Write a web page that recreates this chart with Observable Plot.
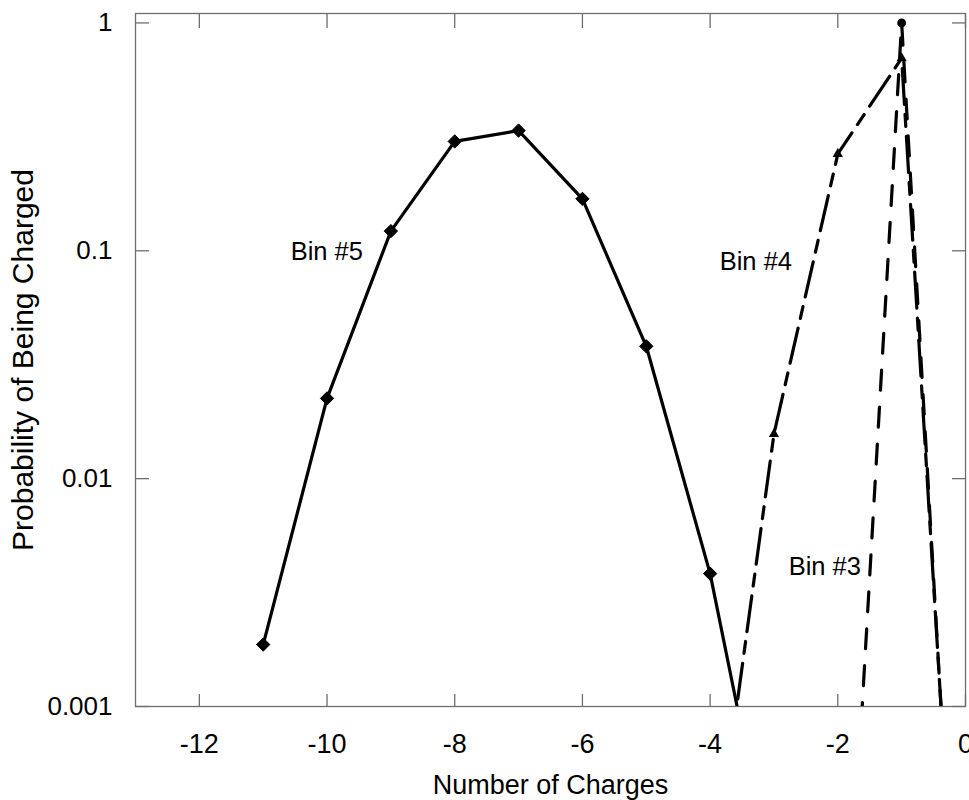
<!DOCTYPE html>
<html>
<head>
<meta charset="utf-8">
<script src="https://cdn.jsdelivr.net/npm/d3@7"></script>
<script src="https://cdn.jsdelivr.net/npm/@observablehq/plot@0.6"></script>
<style>
  html, body { margin: 0; padding: 0; background: #fff; }
  #chart svg { display: block; }
</style>
</head>
<body>
<div id="chart"></div>
<script>
// Bin #5 (solid, diamonds)
const charges5 = [-11, -10, -9, -8, -7, -6, -5, -4, -3];
const prob5 = [0.00187, 0.0225, 0.122, 0.302, 0.337, 0.169, 0.0381, 0.00383, 0.00016];
// Bin #4 (dash-dot, triangles)
const charges4 = [-4, -3, -2, -1, 0];
const prob4 = [0.00014, 0.0157, 0.266, 0.70, 0.000017];
// Bin #3 (dashed, circles)
const charges3 = [-2, -1, 0];
const prob3 = [0.000014, 1.0, 0.0000135];

const xTicks = [-12, -10, -8, -6, -4, -2, 0];
const yTicks = [0.001, 0.01, 0.1, 1];
const yTickLabels = ["0.001", "0.01", "0.1", "1"];

const labelText = ["Bin #5", "Bin #4", "Bin #3"];
const labelX = [-10.57, -3.85, -2.77];
const labelY = [0.099, 0.089, 0.0041];

const toRows = (xs, ys) => xs.map((x, i) => ({x, y: ys[i]}));
const d5 = toRows(charges5, prob5);
const d4 = toRows(charges4, prob4);
const d3b = toRows(charges3, prob3);
const labels = labelText.map((t, i) => ({t, x: labelX[i], y: labelY[i]}));

const gray = "#6e6e6e";
const font = "Liberation Sans, Arial, sans-serif";

const chart = Plot.plot({
  width: 969,
  height: 800,
  marginLeft: 135,
  marginRight: 4,
  marginTop: 13,
  marginBottom: 94,
  style: {fontFamily: font, background: "#fff", color: "#000"},
  x: {domain: [-13, 0]},
  y: {type: "log", domain: [0.001, 1.1]},
  marks: [
    // inward ticks on all four sides
    Plot.axisX(xTicks, {anchor: "bottom", tickSize: -12, text: null, stroke: gray, strokeWidth: 1.3, label: null}),
    Plot.axisX(xTicks, {anchor: "top", tickSize: -14, text: null, stroke: gray, strokeWidth: 1.3, label: null}),
    Plot.axisY(yTicks, {anchor: "left", tickSize: -14, text: null, stroke: gray, strokeWidth: 1.3, label: null}),
    Plot.axisY(yTicks, {anchor: "right", tickSize: -14, text: null, stroke: gray, strokeWidth: 1.3, label: null}),
    // tick labels
    Plot.axisX(xTicks, {anchor: "bottom", tickSize: 0, tickPadding: 27, fontSize: 27,
      tickFormat: d => d === 0 ? "0" : String(d).replace("−", "-"), label: null}),
    Plot.axisY(yTicks, {anchor: "left", tickSize: 0, tickPadding: 23, fontSize: 26,
      tickFormat: d => yTickLabels[yTicks.indexOf(d)], label: null}),
    // axis titles
    Plot.axisX(xTicks, {anchor: "bottom", tickSize: 0, text: null, fontSize: 27,
      label: "Number of Charges", labelAnchor: "center", labelOffset: 87, labelArrow: "none"}),
    Plot.axisY(yTicks, {anchor: "left", tickSize: 0, text: null, fontSize: 30,
      label: "Probability of Being Charged", labelAnchor: "center", labelOffset: 124, labelArrow: "none"}),
    Plot.frame({stroke: gray, strokeWidth: 1.3}),
    // series
    Plot.line(d5, {x: "x", y: "y", stroke: "black", strokeWidth: 3.2, clip: true}),
    Plot.dot(d5, {x: "x", y: "y", symbol: "diamond2", r: 6, fill: "black", stroke: "black", strokeWidth: 1, clip: true}),
    Plot.line(d4, {x: "x", y: "y", stroke: "black", strokeWidth: 3.2, strokeDasharray: "36,10,12,10", clip: true}),
    Plot.dot(d4, {x: "x", y: "y", symbol: "triangle", r: 3.8, fill: "black", clip: true}),
    Plot.line(d3b, {x: "x", y: "y", stroke: "black", strokeWidth: 3.2, strokeDasharray: "20,17", clip: true}),
    Plot.dot(d3b, {x: "x", y: "y", symbol: "circle", r: 4.4, fill: "black", clip: true}),
    // annotations
    Plot.text(labels, {x: "x", y: "y", text: "t", textAnchor: "start", fontSize: 25.5, fill: "black"})
  ]
});
document.getElementById("chart").appendChild(chart);
</script>
</body>
</html>
